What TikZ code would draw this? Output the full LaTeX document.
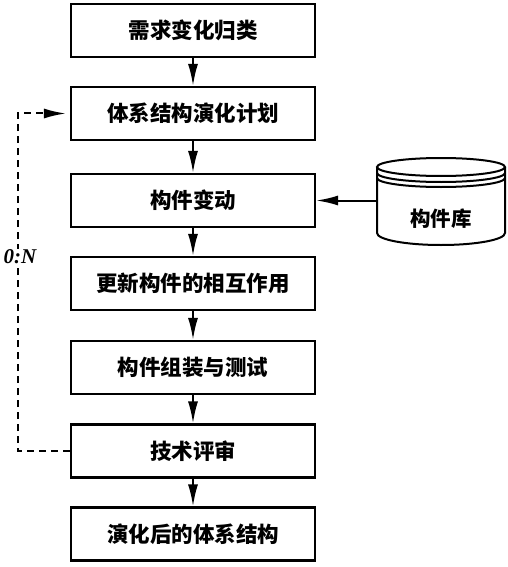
\documentclass[tikz,border=0pt]{standalone}
\usepackage{fontspec}
\newfontfamily\cjk{Noto Sans CJK SC}
\newfontfamily\serifbi{Liberation Serif}
\usetikzlibrary{arrows.meta}
\tikzset{
    stepbox/.style={draw, line width=2.2pt, minimum width=244pt, minimum height=53pt, inner sep=0pt, font=\cjk\bfseries\fontsize{21.5}{25}\selectfont},
    flowarrow/.style={line width=2pt, -{Latex[length=22pt, width=10pt]}},
    loopline/.style={line width=2pt, dash pattern=on 7pt off 5pt},
    store/.style={line width=2pt}
}

\begin{document}
\begin{tikzpicture}[x=1pt, y=-1pt]
    \useasboundingbox (0,0) rectangle (508,567);
    \node[stepbox] (needs) at (193,30.5) {需求变化归类};
    \node[stepbox] (plan) at (193,113.5) {体系结构演化计划};
    \node[stepbox] (change) at (193,200.5) {构件变动};
    \node[stepbox] (update) at (193,283.5) {更新构件的相互作用};
    \node[stepbox] (assemble) at (193,367.5) {构件组装与测试};
    \node[stepbox] (review) at (193,451) {技术评审};
    \node[stepbox] (result) at (193,534) {演化后的体系结构};
    % component library
    \draw[store] (377,167) -- (377,233) arc[start angle=180, end angle=360, x radius=64pt, y radius=12pt] -- (505,167);
    \draw[store] (441,167) ellipse[x radius=64pt, y radius=9pt];
    \draw[store] (377,173) arc[start angle=180, end angle=360, x radius=64pt, y radius=9pt];
    \draw[store] (377,178) arc[start angle=180, end angle=360, x radius=64pt, y radius=9pt];
    \node[font=\cjk\bfseries\fontsize{20.5}{24}\selectfont] (lib) at (441,219) {构件库};
    \coordinate (libport) at (377,200.5);
    \draw[flowarrow] (needs) -- (plan);
    \draw[flowarrow] (plan) -- (change);
    \draw[flowarrow] (change) -- (update);
    \draw[flowarrow] (update) -- (assemble);
    \draw[flowarrow] (assemble) -- (review);
    \draw[flowarrow] (review) -- (result);
    \draw[flowarrow] (libport) -- (change.east);
    % iteration loop
    \draw[loopline, -{Latex[length=22pt, width=10pt]}, shorten >=4pt] (review.west) -- ++(-52,0) |- (plan.west);
    \node[fill=white, inner sep=1pt, font=\serifbi\bfseries\itshape\fontsize{21}{24}\selectfont] (times) at (20,257) {0:N};
\end{tikzpicture}
\end{document}
